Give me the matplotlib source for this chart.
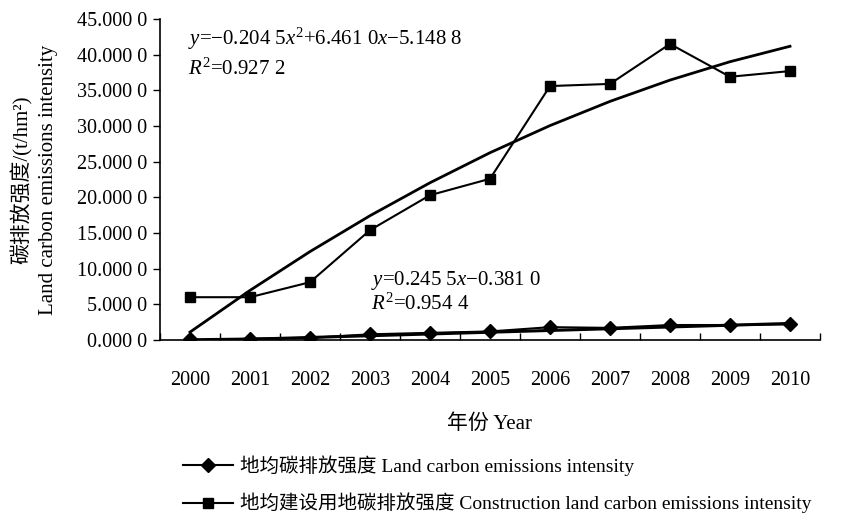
import matplotlib
matplotlib.use("Agg")
import matplotlib.pyplot as plt
import numpy as np

plt.rcParams["font.family"] = ["Liberation Serif", "Noto Sans CJK SC"]
plt.rcParams["mathtext.fontset"] = "custom"
plt.rcParams["mathtext.rm"] = "Liberation Serif"
plt.rcParams["mathtext.it"] = "Liberation Serif:italic"

years = ["2000", "2001", "2002", "2003", "2004", "2005", "2006", "2007", "2008", "2009", "2010"]
land = [0.1, 0.2, 0.3, 0.8, 1.0, 1.2, 1.8, 1.7, 2.1, 2.1, 2.2]
construction = [6.0, 6.0, 8.1, 15.4, 20.3, 22.6, 35.6, 35.9, 41.5, 36.9, 37.7]

# trend line coefficients as printed on the chart
quad_coef = [-0.2045, 6.4610, -5.1488]
lin_coef = [0.2455, -0.3810]

x = np.arange(len(years))
xs = x + 1  # excel trendline uses 1..n

fig = plt.figure(figsize=(8.52, 5.17), dpi=100)
ax = fig.add_axes([160 / 852, 177 / 517, 660 / 852, 321 / 517])

l1, = ax.plot(x, land, "-D", color="black", lw=1.5, ms=7.5,
              label="地均碳排放强度 Land carbon emissions intensity")
l2, = ax.plot(x, construction, "-s", color="black", lw=1.5, ms=7.5,
              label="地均建设用地碳排放强度 Construction land carbon emissions intensity")
ax.plot(x, np.polyval(quad_coef, xs), color="black", lw=2)
ax.plot(x, np.polyval(lin_coef, xs), color="black", lw=2.2)

ax.text(-0.03, 42.2, "$y$=−0.204 5$x^2$+6.461 0$x$−5.148 8", fontsize=15, va="center")
ax.text(-0.03, 37.9, "$R^2$=0.927 2", fontsize=15, va="center")
ax.text(3.02, 8.4, "$y$=0.245 5$x$−0.381 0", fontsize=15, va="center")
ax.text(3.02, 5.0, "$R^2$=0.954 4", fontsize=15, va="center")

ax.set_xlim(-0.5, 10.5)
ax.set_ylim(0, 45)
ax.set_yticks(np.arange(0, 46, 5))
ax.set_yticklabels([f"{v:.3f} 0" for v in np.arange(0, 46, 5)], fontsize=14.5)
ax.set_xticks(x)
ax.set_xticklabels(years, fontsize=14.5)
ax.set_xticks(np.arange(-0.5, 11, 1), minor=True)
ax.tick_params(axis="x", which="major", length=0, pad=22)
ax.tick_params(axis="x", which="minor", direction="in", length=5, width=1)
ax.tick_params(axis="y", direction="out", length=5, width=1, pad=4)
for s in ["top", "right"]:
    ax.spines[s].set_visible(False)
for s in ["left", "bottom"]:
    ax.spines[s].set_linewidth(1.2)

ax.set_xlabel("年份 Year", fontsize=15, labelpad=18)
ax.set_ylabel("碳排放强度/(t/hm²)\nLand carbon emissions intensity", fontsize=15,
              labelpad=14, linespacing=1.45)

fig.legend(handles=[l1, l2], loc="upper left", bbox_to_anchor=(169 / 852, 1 - 442 / 517),
           frameon=False, fontsize=14, handlelength=2.6, labelspacing=0.85,
           handletextpad=0.35, borderpad=0.2)

fig.savefig("out.png", dpi=100)
